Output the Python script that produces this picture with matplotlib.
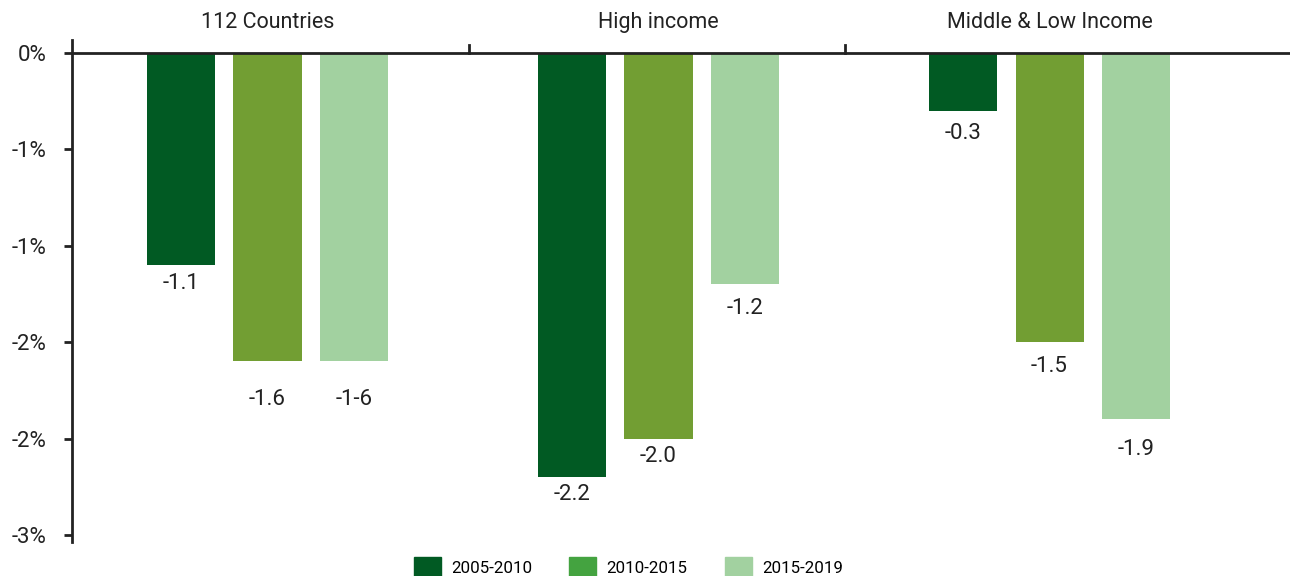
import matplotlib.pyplot as plt
import numpy as np
from matplotlib.patches import Patch

plt.rcParams['font.family'] = ['Roboto', 'DejaVu Sans']

groups = ['112 Countries', 'High income', 'Middle & Low Income']
periods = ['2005-2010', '2010-2015', '2015-2019']
values = [
    [-1.1, -1.6, -1.6],
    [-2.2, -2.0, -1.2],
    [-0.3, -1.5, -1.9],
]
labels = [
    ['-1.1', '-1.6', '-1-6'],
    ['-2.2', '-2.0', '-1.2'],
    ['-0.3', '-1.5', '-1.9'],
]
yticks = [0, -0.5, -1.0, -1.5, -2.0, -2.5]
yticklabels = ['0%', '-1%', '-1%', '-2%', '-2%', '-3%']

bar_colors = ['#015a23', '#729e33', '#a2d1a0']
legend_colors = ['#015a23', '#44a340', '#a2d1a0']
# drop of each value label below its bar end, in points
label_pad = [[6, 19.5, 19.5], [5, 5, 10], [9, 10, 14]]

fig = plt.figure(figsize=(12.9, 5.76), dpi=100)
ax = fig.add_axes([72 / 1290, 34 / 576, 1 - 72 / 1290, 502 / 576])

x = np.arange(len(groups))
width = 0.174
step = 0.221
for j in range(len(periods)):
    vals = [values[i][j] for i in range(len(groups))]
    ax.bar(x + (j - 1) * step, vals, width=width, color=bar_colors[j], zorder=2)
    for i in range(len(groups)):
        ax.annotate(labels[i][j], xy=(x[i] + (j - 1) * step, vals[i]),
                    xytext=(0, -label_pad[i][j]), textcoords='offset points',
                    ha='center', va='top', fontsize=16, color='#222222')

ax.set_xlim(-0.5, 2.615)
ax.set_ylim(-2.536, 0.067)

for s in ['right', 'bottom', 'top']:
    ax.spines[s].set_visible(False)
ax.spines['left'].set_linewidth(2)
ax.spines['left'].set_color('#222222')
ax.axhline(0, color='#222222', lw=2, zorder=3)

ax.set_yticks(yticks)
ax.set_yticklabels(yticklabels, fontsize=16, color='#222222')
ax.tick_params(axis='y', length=6, width=2, color='#222222', pad=12)

# group names above the zero line, separator ticks on it
ax.set_xticks([])
for i, g in enumerate(groups):
    ax.text(x[i], 0.16, g, ha='center', va='center', fontsize=15.5, color='#222222')
for sx in [0.515, 1.477]:
    ax.plot([sx, sx], [0, 0.04], color='#222222', lw=2, zorder=3, clip_on=False)

handles = [Patch(color=c) for c in legend_colors]
fig.legend(handles, periods, loc='lower center', bbox_to_anchor=(0.487, -0.03),
           ncol=3, frameon=False, fontsize=12.2, handlelength=1.6, handleheight=1.5,
           columnspacing=2.2, handletextpad=0.6)

fig.savefig('out.png', dpi=100)
